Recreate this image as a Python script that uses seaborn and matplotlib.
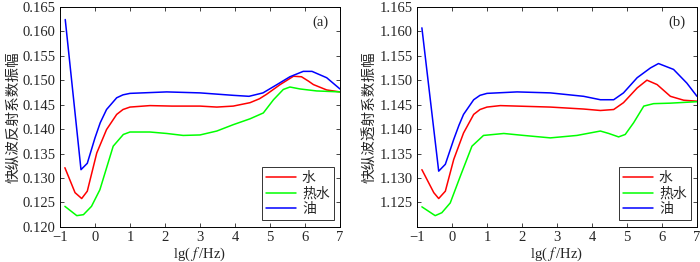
import numpy as np
import pandas as pd
import matplotlib
matplotlib.use("Agg")
import matplotlib.pyplot as plt
import seaborn as sns

# ---- data (lg f, amplitude) ----
x_a_water = [-0.86, -0.57, -0.38, -0.22, 0.05, 0.33, 0.62, 0.8, 1.0, 1.57, 2.2, 3.0, 3.48, 3.95, 4.43, 4.7, 4.9, 5.29, 5.67, 5.9, 6.1, 6.24, 6.62, 7.0]
y_a_water = [0.1321, 0.1270, 0.1258, 0.1273, 0.1351, 0.1399, 0.1430, 0.1440, 0.1445, 0.1448, 0.1447, 0.1447, 0.1445, 0.1447, 0.1454, 0.1462, 0.1471, 0.1491, 0.1508, 0.1507, 0.1498, 0.1491, 0.1480, 0.1476]
x_a_hot = [-0.86, -0.52, -0.33, -0.1, 0.14, 0.52, 0.81, 1.0, 1.57, 2.05, 2.52, 3.0, 3.48, 3.95, 4.43, 4.81, 5.1, 5.38, 5.57, 5.86, 6.33, 7.0]
y_a_hot = [0.1242, 0.1223, 0.1225, 0.1242, 0.1276, 0.1365, 0.1389, 0.1394, 0.1394, 0.1391, 0.1387, 0.1388, 0.1396, 0.1409, 0.1421, 0.1433, 0.1460, 0.1481, 0.1486, 0.1482, 0.1478, 0.1476]
x_a_oil = [-0.85, -0.4, -0.22, 0.0, 0.15, 0.33, 0.62, 0.8, 1.0, 2.05, 3.0, 3.95, 4.4, 4.8, 5.2, 5.57, 5.95, 6.2, 6.62, 7.0]
y_a_oil = [0.1624, 0.1317, 0.1330, 0.1382, 0.1413, 0.1440, 0.1464, 0.1470, 0.1473, 0.1476, 0.1474, 0.1469, 0.1467, 0.1474, 0.1491, 0.1507, 0.1518, 0.1518, 0.1505, 0.1482]

x_b_water = [-0.86, -0.52, -0.38, -0.19, 0.05, 0.33, 0.62, 0.8, 1.0, 1.38, 2.81, 3.76, 4.24, 4.62, 4.9, 5.29, 5.57, 5.86, 6.24, 6.62, 7.0]
y_b_water = [1.1317, 1.1270, 1.1258, 1.1273, 1.1338, 1.1392, 1.1430, 1.1440, 1.1445, 1.1448, 1.1445, 1.1441, 1.1438, 1.1440, 1.1454, 1.1484, 1.1500, 1.1491, 1.1467, 1.1459, 1.1457]
x_b_hot = [-0.86, -0.48, -0.29, -0.05, 0.24, 0.57, 0.9, 1.48, 2.05, 2.81, 3.57, 4.24, 4.48, 4.76, 4.95, 5.19, 5.48, 5.76, 6.24, 7.0]
y_b_hot = [1.1241, 1.1223, 1.1229, 1.1249, 1.1304, 1.1365, 1.1387, 1.1391, 1.1387, 1.1382, 1.1387, 1.1396, 1.1391, 1.1384, 1.1389, 1.1413, 1.1447, 1.1452, 1.1453, 1.1456]
x_b_oil = [-0.86, -0.38, -0.19, 0.05, 0.2, 0.33, 0.62, 0.8, 1.0, 1.86, 2.81, 3.76, 4.24, 4.62, 4.9, 5.29, 5.67, 5.9, 6.33, 6.71, 7.0]
y_b_oil = [1.1607, 1.1314, 1.1328, 1.1379, 1.1408, 1.1430, 1.1460, 1.1469, 1.1473, 1.1476, 1.1474, 1.1467, 1.1460, 1.1460, 1.1474, 1.1505, 1.1525, 1.1534, 1.1522, 1.1494, 1.1467]

labels = ["水", "热水", "油"]
colors = ["#ff0000", "#00ff00", "#0000ff"]


def long_df(xs, ys):
    parts = []
    for lab, x, y in zip(labels, xs, ys):
        parts.append(pd.DataFrame({"x": x, "y": y, "medium": lab}))
    return pd.concat(parts, ignore_index=True)


df_a = long_df([x_a_water, x_a_hot, x_a_oil], [y_a_water, y_a_hot, y_a_oil])
df_b = long_df([x_b_water, x_b_hot, x_b_oil], [y_b_water, y_b_hot, y_b_oil])

sns.set_style("ticks")
plt.rcParams["font.family"] = ["Liberation Serif", "Noto Sans CJK SC"]
plt.rcParams["mathtext.fontset"] = "stix"
plt.rcParams["xtick.direction"] = "in"
plt.rcParams["ytick.direction"] = "in"

fig = plt.figure(figsize=(7, 2.62), dpi=100)
ax_a = fig.add_axes([0.0857, 0.134, 0.40, 0.84])
ax_b = fig.add_axes([0.5957, 0.134, 0.40, 0.84])

panels = [
    (ax_a, df_a, "(a)", "快纵波反射系数振幅", (0.120, 0.165), np.arange(0.120, 0.1651, 0.005)),
    (ax_b, df_b, "(b)", "快纵波透射系数振幅", (1.120, 1.165), np.arange(1.125, 1.1651, 0.005)),
]

for ax, df, tag, ylab, ylim, yt in panels:
    sns.lineplot(data=df, x="x", y="y", hue="medium", hue_order=labels,
                 palette=colors, linewidth=1.1, ax=ax, sort=False)
    ax.set_xlim(-1, 7)
    ax.set_ylim(*ylim)
    ax.set_xticks(range(-1, 8))
    ax.set_yticks(yt)
    ax.set_yticklabels([f"{v:.3f}" for v in yt])
    ax.tick_params(axis="both", labelsize=10.5, length=3, width=0.6,
                   top=True, right=True, pad=3)
    for sp in ax.spines.values():
        sp.set_linewidth(0.7)
        sp.set_color("black")
    ax.set_xlabel(r"lg( $f\,$/Hz)", fontsize=10.5, labelpad=1)
    ax.set_ylabel(ylab, fontsize=10.5, family=["Noto Sans CJK SC"], labelpad=2)
    ax.text(0.93, 0.93, tag, transform=ax.transAxes, ha="center", va="center",
            fontsize=10.5)
    leg = ax.legend(loc="lower right", bbox_to_anchor=(0.978, 0.03),
                    frameon=True, fancybox=False, edgecolor="black",
                    prop={"family": "Noto Sans CJK SC", "size": 10},
                    handlelength=2.2, borderpad=0.3, labelspacing=0.1,
                    handletextpad=0.4, borderaxespad=0)
    leg.get_frame().set_linewidth(0.7)

fig.savefig("out.png", dpi=100)
